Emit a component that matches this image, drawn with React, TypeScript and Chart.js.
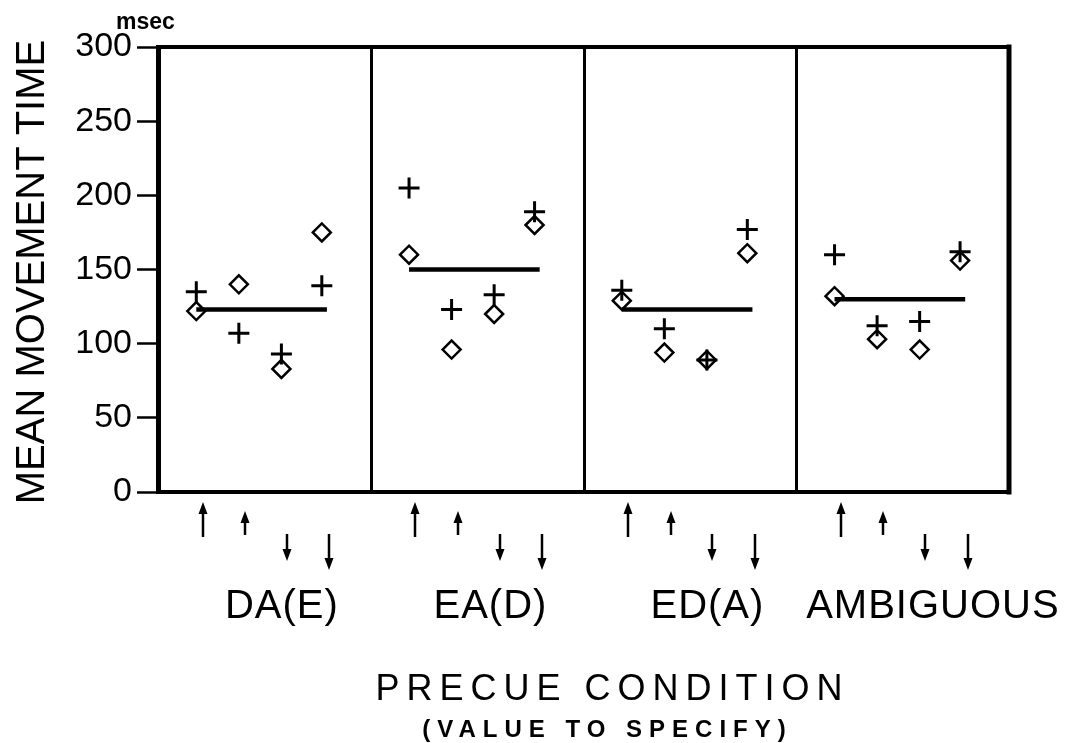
import React, { useEffect, useRef } from "react";
import { Chart, registerables } from "chart.js";

Chart.register(...registerables);

// ---- data ----
const conditions = ["DA(E)", "EA(D)", "ED(A)", "AMBIGUOUS"];
// four precue slots per condition (arrow glyphs below the axis)
const slotArrows = ["up-long", "up-short", "down-short", "down-long"];
// "+" markers
const plusValues = [
  [135, 107, 93, 139],
  [205, 123, 133, 189],
  [136, 110, 89, 177],
  [160, 112, 115, 162],
];
// diamond markers
const diamondValues = [
  [122, 140, 83, 175],
  [160, 96, 120, 180],
  [129, 94, 89, 161],
  [132, 103, 96, 156],
];
// condition means (horizontal bars)
const meanValues = [123, 150, 123, 130];
const yTickValues = [0, 50, 100, 150, 200, 250, 300];

// ---- layout constants (scale units) ----
const PANEL = 5;
const pointSlots = [0.9, 1.9, 2.9, 3.85];
const arrowSlots = [1.05, 2.05, 3.03, 4.03];
const labelOffsets = [2.9, 2.8, 2.9, 3.2];

const FONT = "'Liberation Sans', Arial, sans-serif";

function buildPoints(values: number[][]) {
  const pts: { x: number; y: number }[] = [];
  values.forEach((row, p) =>
    row.forEach((v, k) => pts.push({ x: p * PANEL + pointSlots[k], y: v }))
  );
  return pts;
}

const decorPlugin = {
  id: "decor",
  afterDraw(chart: any) {
    const ctx: CanvasRenderingContext2D = chart.ctx;
    const { left, right, top, bottom } = chart.chartArea;
    const xs = chart.scales.x;
    ctx.save();
    ctx.strokeStyle = "#000";
    ctx.fillStyle = "#000";
    ctx.lineCap = "square";

    // frame: top, right, bottom
    ctx.lineWidth = 4;
    ctx.beginPath();
    ctx.moveTo(left, top);
    ctx.lineTo(right, top);
    ctx.moveTo(left, bottom);
    ctx.lineTo(right, bottom);
    ctx.stroke();
    ctx.lineWidth = 5;
    ctx.beginPath();
    ctx.moveTo(right, top);
    ctx.lineTo(right, bottom);
    ctx.stroke();

    // panel dividers
    ctx.lineWidth = 3;
    ctx.lineCap = "butt";
    for (let p = 1; p < conditions.length; p++) {
      const x = Math.round(xs.getPixelForValue(p * PANEL)) + 0.5;
      ctx.beginPath();
      ctx.moveTo(x, top);
      ctx.lineTo(x, bottom);
      ctx.stroke();
    }

    // arrows
    const arrowSpec: Record<string, [number, number, boolean]> = {
      "up-long": [10, 45, true],
      "up-short": [19, 43, true],
      "down-short": [42, 69, false],
      "down-long": [42, 78, false],
    };
    conditions.forEach((_, p) => {
      slotArrows.forEach((kind, k) => {
        const x = Math.round(xs.getPixelForValue(p * PANEL + arrowSlots[k]));
        const [a, b, up] = arrowSpec[kind];
        const y1 = bottom + a;
        const y2 = bottom + b;
        const head = 12;
        const hw = 4.5;
        ctx.lineWidth = 2.5;
        ctx.beginPath();
        if (up) {
          ctx.moveTo(x, y1 + head - 2);
          ctx.lineTo(x, y2);
        } else {
          ctx.moveTo(x, y1);
          ctx.lineTo(x, y2 - head + 2);
        }
        ctx.stroke();
        ctx.beginPath();
        if (up) {
          ctx.moveTo(x, y1);
          ctx.lineTo(x - hw, y1 + head);
          ctx.lineTo(x + hw, y1 + head);
        } else {
          ctx.moveTo(x, y2);
          ctx.lineTo(x - hw, y2 - head);
          ctx.lineTo(x + hw, y2 - head);
        }
        ctx.closePath();
        ctx.fill();
      });
    });

    // spaced text helper (centered)
    const spaced = (text: string, font: string, spacing: number, cx: number, y: number) => {
      ctx.font = font;
      (ctx as any).letterSpacing = `${spacing}px`;
      ctx.textAlign = "left";
      ctx.textBaseline = "alphabetic";
      const w = ctx.measureText(text).width - spacing;
      ctx.fillText(text, cx - w / 2, y);
      (ctx as any).letterSpacing = "0px";
    };

    // condition labels
    conditions.forEach((c, p) => {
      const x = xs.getPixelForValue(p * PANEL + labelOffsets[p]);
      spaced(c, `40px ${FONT}`, 1, x, bottom + 126);
    });

    spaced("PRECUE CONDITION", `36px ${FONT}`, 7, 609, 700);
    spaced("(VALUE TO SPECIFY)", `bold 24px ${FONT}`, 7, 604, 737);

    // units label
    ctx.font = `bold 23px ${FONT}`;
    ctx.textAlign = "left";
    ctx.fillText("msec", 116, 29);

    // y axis title
    ctx.save();
    ctx.translate(44, 272);
    ctx.rotate(-Math.PI / 2);
    ctx.font = `40px ${FONT}`;
    ctx.textAlign = "center";
    ctx.textBaseline = "alphabetic";
    ctx.fillText("MEAN MOVEMENT TIME", 0, 0);
    ctx.restore();

    ctx.restore();
  },
};

export default function App() {
  const ref = useRef<HTMLCanvasElement>(null);

  useEffect(() => {
    if (!ref.current) return;
    const meanSets = meanValues.map((m, p) => ({
      type: "line" as const,
      label: `mean ${conditions[p]}`,
      data: [
        { x: p * PANEL + pointSlots[0], y: m },
        { x: p * PANEL + 3.97, y: m },
      ],
      showLine: true,
      borderColor: "#000",
      borderWidth: 4.5,
      pointRadius: 0,
      fill: false,
    }));

    const chart = new Chart(ref.current, {
      type: "scatter",
      data: {
        datasets: [
          {
            label: "plus",
            data: buildPoints(plusValues),
            pointStyle: "cross",
            pointRadius: 10.5,
            pointBorderWidth: 3,
            borderColor: "#000",
            backgroundColor: "#000",
          } as any,
          {
            label: "diamond",
            data: buildPoints(diamondValues),
            pointStyle: "rectRot",
            pointRadius: 9,
            pointBorderWidth: 2.5,
            borderColor: "#000",
            backgroundColor: "rgba(0,0,0,0)",
          } as any,
          ...meanSets,
        ],
      },
      options: {
        animation: false,
        responsive: false,
        devicePixelRatio: 1,
        layout: { padding: { left: 0, top: 47, right: 56, bottom: 251 } },
        plugins: {
          legend: { display: false },
          tooltip: { enabled: false },
          title: { display: false },
        },
        scales: {
          x: {
            type: "linear",
            min: 0,
            max: PANEL * conditions.length,
            display: false,
          },
          y: {
            type: "linear",
            min: yTickValues[0],
            max: yTickValues[yTickValues.length - 1],
            afterFit: (s: any) => {
              s.width = 158;
            },
            afterBuildTicks: (s: any) => {
              s.ticks = yTickValues.map((v) => ({ value: v }));
            },
            ticks: {
              color: "#000",
              font: { family: FONT, size: 34 },
              padding: 5,
            },
            grid: {
              drawOnChartArea: false,
              drawTicks: true,
              tickLength: 21,
              tickWidth: 2.5,
              color: "#000",
            },
            border: { display: true, color: "#000", width: 5 },
          },
        },
      } as any,
      plugins: [decorPlugin],
    });
    return () => chart.destroy();
  }, []);

  return (
    <div
      style={{
        position: "absolute",
        left: 0,
        top: 0,
        width: 1065,
        height: 743,
        background: "#fff",
      }}
    >
      <canvas
        ref={ref}
        width={1065}
        height={743}
        style={{ display: "block", width: 1065, height: 743 }}
      />
    </div>
  );
}
